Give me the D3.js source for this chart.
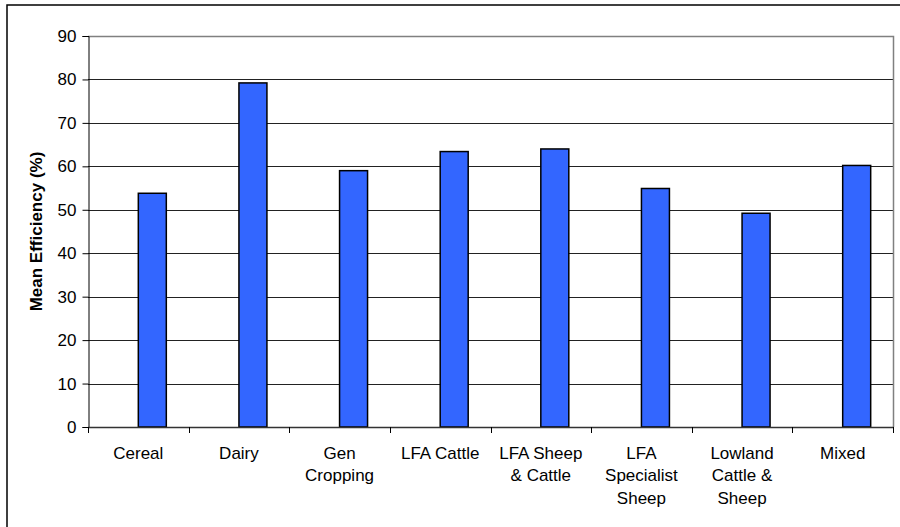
<!DOCTYPE html>
<html>
<head>
<meta charset="utf-8">
<script src="https://cdn.jsdelivr.net/npm/d3@7"></script>
<style>
  html, body { margin: 0; padding: 0; background: #fff; }
  svg { display: block; font-family: Arial, "Liberation Sans", sans-serif; }
</style>
</head>
<body>
<svg id="chart" width="900" height="527"></svg>
<script>
// ---- data ----
const categories = [
  ["Cereal"],
  ["Dairy"],
  ["Gen", "Cropping"],
  ["LFA Cattle"],
  ["LFA Sheep", "& Cattle"],
  ["LFA", "Specialist", "Sheep"],
  ["Lowland", "Cattle &", "Sheep"],
  ["Mixed"]
];
const seriesSlots = ["(empty)", "Mean Efficiency"];
const meanEfficiency = [53.8, 79.2, 59.0, 63.4, 64.0, 54.9, 49.2, 60.2];
const yTicks = [0, 10, 20, 30, 40, 50, 60, 70, 80, 90];
const yTitle = "Mean Efficiency (%)";

// ---- layout ----
const svg = d3.select("#chart");
const W = 900, H = 527;
const plot = { left: 88, right: 893, top: 36, bottom: 427 };
const fontSize = 17;

svg.append("rect").attr("width", W).attr("height", H).attr("fill", "#fff");
// outer chart border (extends past right/bottom edges)
svg.append("rect")
  .attr("x", 7).attr("y", 5).attr("width", W + 10).attr("height", H + 10)
  .attr("fill", "none").attr("stroke", "#000").attr("stroke-width", 1.5);

const keys = categories.map(c => c.join(" "));
const x = d3.scaleBand().domain(keys).range([plot.left, plot.right]).paddingInner(0).paddingOuter(0);
const xInner = d3.scaleBand().domain(seriesSlots).range([0, x.bandwidth()]).paddingInner(0).paddingOuter(0.797);
const y = d3.scaleLinear().domain([0, 90]).range([plot.bottom, plot.top]);

// gridlines
svg.append("g").selectAll("line").data(yTicks.filter(t => t > 0 && t < 90)).join("line")
  .attr("x1", plot.left).attr("x2", plot.right)
  .attr("y1", d => Math.round(y(d)) + 0.5).attr("y2", d => Math.round(y(d)) + 0.5)
  .attr("stroke", "#222").attr("stroke-width", 1);

// plot area border (gray)
svg.append("path")
  .attr("d", `M${plot.left},${Math.round(y(90)) + 0.5}H${plot.right + 0.5}V${plot.bottom}`)
  .attr("fill", "none").attr("stroke", "#808080").attr("stroke-width", 1.5);

// bars
svg.append("g").selectAll("rect").data(meanEfficiency).join("rect")
  .attr("x", (d, i) => x(keys[i]) + xInner("Mean Efficiency"))
  .attr("width", xInner.bandwidth())
  .attr("y", d => y(d))
  .attr("height", d => y(0) - y(d))
  .attr("fill", "#3366FF")
  .attr("stroke", "#000").attr("stroke-width", 1.5);

// y axis
const yAxis = d3.axisLeft(y).tickValues(yTicks).tickSize(6).tickPadding(6).tickFormat(d3.format("d"));
const gy = svg.append("g").attr("transform", `translate(${plot.left + 0.5},0)`).call(yAxis);
gy.select(".domain").attr("stroke", "#000").attr("stroke-width", 1);
gy.selectAll(".tick line").attr("stroke", "#000");
gy.selectAll(".tick text").attr("font-size", fontSize).attr("fill", "#000")
  .attr("font-family", "Arial, 'Liberation Sans', sans-serif");

// x axis (ticks at category boundaries)
const boundaries = keys.map(k => x(k)).concat([plot.right]);
const gx = svg.append("g");
gx.append("line").attr("x1", plot.left).attr("x2", plot.right + 0.5)
  .attr("y1", plot.bottom + 0.5).attr("y2", plot.bottom + 0.5)
  .attr("stroke", "#333").attr("stroke-width", 1.5);
gx.selectAll("line.tk").data(boundaries).join("line").attr("class", "tk")
  .attr("x1", d => Math.round(d) + 0.5).attr("x2", d => Math.round(d) + 0.5)
  .attr("y1", plot.bottom).attr("y2", plot.bottom + 6)
  .attr("stroke", "#000");

// category labels
const lab = svg.append("g").selectAll("text").data(categories).join("text")
  .attr("text-anchor", "middle")
  .attr("font-size", fontSize).attr("fill", "#000")
  .attr("transform", (d, i) => `translate(${x(keys[i]) + x.bandwidth() / 2},459)`);
lab.selectAll("tspan").data(d => d).join("tspan")
  .attr("x", 0).attr("y", (d, j) => j * 22.3)
  .text(d => d);

// y title
svg.append("text")
  .attr("transform", `translate(42,${(plot.top + plot.bottom) / 2}) rotate(-90)`)
  .attr("text-anchor", "middle")
  .attr("font-size", fontSize).attr("font-weight", "bold").attr("fill", "#000")
  .text(yTitle);
</script>
</body>
</html>
